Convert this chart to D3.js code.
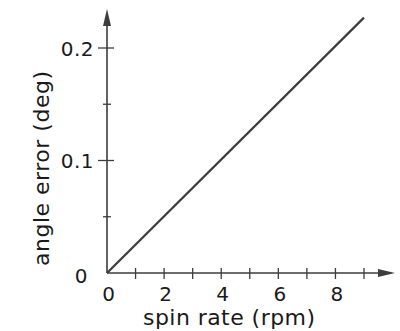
<!DOCTYPE html>
<html><head><meta charset="utf-8">
<script src="https://cdn.jsdelivr.net/npm/d3@7"></script>
<style>body{margin:0;background:#fff}svg{display:block}text{font-family:"DejaVu Sans",sans-serif;fill:#1a1a1a}</style>
</head><body>
<svg id="c" width="400" height="331"></svg>
<script>
const spinRate = [0, 9];
const angleError = [0, 0.227];
const xTickLabels = [0, 2, 4, 6, 8];
const xMinorTicks = [1, 3, 5, 7, 9];
const yTickLabels = [0.1, 0.2];
const yMinorTicks = [0.05, 0.15];

const svg = d3.select("#c");
const x = d3.scaleLinear().domain([0, 9]).range([107, 364]);
const y = d3.scaleLinear().domain([0, 0.2]).range([273, 48]);
const col = "#3c3c3c";

// axes lines
svg.append("line").attr("x1", x(0)).attr("x2", 388).attr("y1", y(0)).attr("y2", y(0)).attr("stroke", col).attr("stroke-width", 1.6);
svg.append("line").attr("x1", x(0)).attr("x2", x(0)).attr("y1", y(0)).attr("y2", 16).attr("stroke", col).attr("stroke-width", 1.6);
// arrowheads
svg.append("path").attr("d", `M${x(0)},9 L${x(0)-4},26 L${x(0)+4},26 Z`).attr("fill", col);
svg.append("path").attr("d", `M395,${y(0)} L378,${y(0)-4} L378,${y(0)+4} Z`).attr("fill", col);

// x ticks
svg.selectAll(".xt").data(xTickLabels.filter(d => d > 0).concat(xMinorTicks)).enter().append("line")
  .attr("x1", d => x(d)).attr("x2", d => x(d)).attr("y1", y(0) - 5).attr("y2", y(0) + 6)
  .attr("stroke", col).attr("stroke-width", 1.3);
svg.selectAll(".xl").data(xTickLabels).enter().append("text")
  .attr("x", d => x(d) + 1.5).attr("y", 301).attr("text-anchor", "middle")
  .attr("font-size", 20).text(d => d);

// y ticks
svg.selectAll(".yt").data(yTickLabels).enter().append("line")
  .attr("x1", x(0) - 9).attr("x2", x(0) + 7).attr("y1", d => y(d)).attr("y2", d => y(d))
  .attr("stroke", col).attr("stroke-width", 1.3);
svg.selectAll(".ym").data(yMinorTicks).enter().append("line")
  .attr("x1", x(0) - 4).attr("x2", x(0) + 4).attr("y1", d => y(d)).attr("y2", d => y(d))
  .attr("stroke", col).attr("stroke-width", 1.3);
svg.selectAll(".yl").data(yTickLabels).enter().append("text")
  .attr("x", 94).attr("y", d => y(d) + 7.5).attr("text-anchor", "end")
  .attr("font-size", 20).attr("letter-spacing", 0.5).text(d => d.toFixed(1));
svg.append("text").attr("x", 81).attr("y", 283).attr("text-anchor", "middle")
  .attr("font-size", 20).text("0");

// data line
svg.append("path").datum(spinRate.map((s, i) => [s, angleError[i]]))
  .attr("d", d3.line().x(d => x(d[0])).y(d => y(d[1])))
  .attr("fill", "none").attr("stroke", col).attr("stroke-width", 2.2);

// titles
svg.append("text").attr("x", 143).attr("y", 325)
  .attr("font-size", 22).attr("textLength", 172).attr("lengthAdjust", "spacing").text("spin rate (rpm)");
svg.append("text").attr("transform", "translate(49,266) rotate(-90)")
  .attr("font-size", 22).attr("textLength", 195).attr("lengthAdjust", "spacing").text("angle error (deg)");
</script>
</body></html>
